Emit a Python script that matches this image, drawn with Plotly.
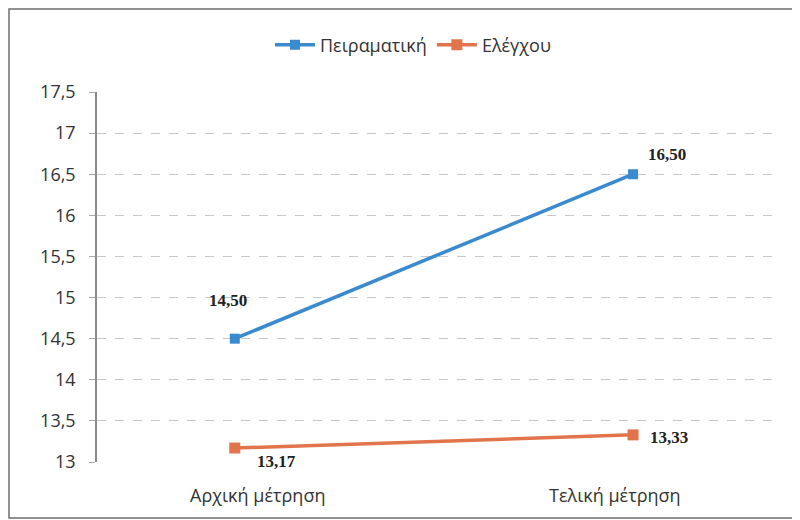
import plotly.graph_objects as go

categories = ["Αρχική μέτρηση", "Τελική μέτρηση"]
series_names = ["Πειραματική", "Ελέγχου"]
peiramatiki = [14.50, 16.50]
elegxou = [13.17, 13.33]
peiramatiki_labels = ["14,50", "16,50"]
elegxou_labels = ["13,17", "13,33"]
y_ticks = [13, 13.5, 14, 14.5, 15, 15.5, 16, 16.5, 17, 17.5]

blue = "#3A8AD0"
orange = "#E2744C"

# page offset (browser body margin) compensation
L, T, W, H = 89, 84, 683, 370

fig = go.Figure()
fig.add_trace(go.Scatter(
    x=[0, 1], y=peiramatiki, mode="lines+markers", name=series_names[0],
    line=dict(color=blue, width=3.5),
    marker=dict(symbol="square", size=10, color=blue),
))
fig.add_trace(go.Scatter(
    x=[0, 1], y=elegxou, mode="lines+markers", name=series_names[1],
    line=dict(color=orange, width=3.5),
    marker=dict(symbol="square", size=11, color=orange),
))

label_font = dict(family="Liberation Serif, Times New Roman, serif", size=17, color="#222222")
offsets_p = [(-7, 38), (34, 20)]
offsets_e = [(42, -13), (36, -3)]
for i in range(2):
    fig.add_annotation(x=i, y=peiramatiki[i], text="<b>%s</b>" % peiramatiki_labels[i],
                       showarrow=False, xshift=offsets_p[i][0], yshift=offsets_p[i][1], font=label_font)
    fig.add_annotation(x=i, y=elegxou[i], text="<b>%s</b>" % elegxou_labels[i],
                       showarrow=False, xshift=offsets_e[i][0], yshift=offsets_e[i][1], font=label_font)

# category labels (as in the scanned original, slightly offset from the points)
cat_shifts = [23, -18]
for i, c in enumerate(categories):
    fig.add_annotation(x=i, y=0, xref="x", yref="paper", text=c, showarrow=False,
                       xshift=cat_shifts[i], yshift=-33, yanchor="middle",
                       font=dict(size=18, color="#333333"))

# outer frame of the chart
fig.add_shape(type="rect", xref="paper", yref="paper",
              x0=(1 - L) / W, x1=(788 - L) / W, y0=(T + H - 510) / H, y1=(T + H - 1) / H,
              line=dict(color="#6E6E6E", width=1.5), fillcolor="rgba(0,0,0,0)", layer="below")

fig.update_layout(
    width=800, height=520,
    margin=dict(l=L, r=800 - L - W, t=T, b=520 - T - H),
    paper_bgcolor="white", plot_bgcolor="white",
    separators=",.",
    font=dict(family="Open Sans, Noto Sans, sans-serif", color="#333333"),
    legend=dict(orientation="h", x=(262 - L) / W, xanchor="left",
                y=(T + H - 37) / H, yanchor="middle",
                font=dict(size=18, color="#333333"), itemwidth=40),
    showlegend=True,
)
fig.update_xaxes(
    range=[-0.346, 1.369], tickvals=[0, 1], ticktext=["", ""],
    showgrid=False, zeroline=False, showline=False, ticks="",
)
fig.update_yaxes(
    range=[13, 17.5], tickvals=y_ticks,
    showgrid=True, gridcolor="#C8C8C8", griddash="dash", gridwidth=1,
    zeroline=False, showline=True, linecolor="#8A8A8A", linewidth=1.5,
    ticks="outside", ticklen=6, tickcolor="#AAAAAA",
    tickfont=dict(size=18, color="#333333"), ticklabelstandoff=10,
)

fig.write_html("out.html")
